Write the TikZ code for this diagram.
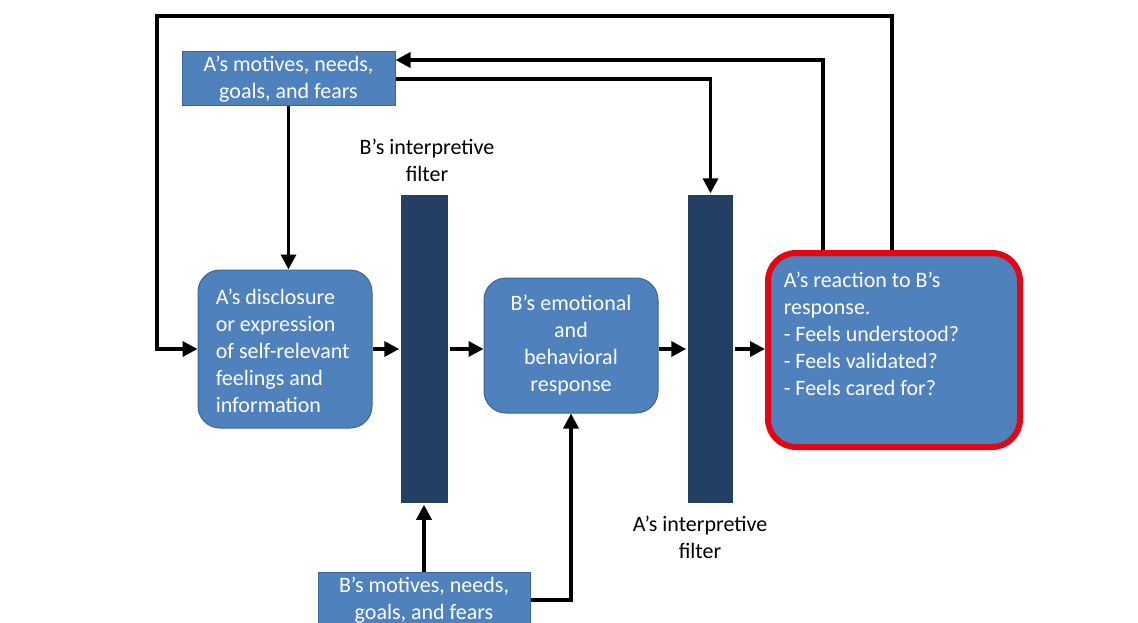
\documentclass[tikz,border=0pt]{standalone}
\usepackage{fontspec}
\setmainfont{Carlito}
\usetikzlibrary{arrows.meta}
\definecolor{boxblue}{HTML}{4F81BD}
\definecolor{boxedge}{HTML}{3B6596}
\definecolor{filtblue}{HTML}{233F64}
\definecolor{alertred}{HTML}{E30613}

\begin{document}
\begin{tikzpicture}[x=1pt, y=-1pt, line width=3.5pt,
    font=\fontsize{22}{27}\selectfont,
    arr/.style={-{Triangle[length=15pt,width=15pt]}, black},
    plain/.style={draw=boxedge, fill=boxblue, line width=1pt, text=white, align=center, inner sep=2pt},
    rbox/.style={plain, rounded corners=22pt},
    filt/.style={fill=filtblue, draw=none, inner sep=0pt},
    react/.style={draw=alertred, line width=6pt, fill=boxblue, rounded corners=28pt}]

    \useasboundingbox (0,0) rectangle (1138,623);
    \clip (0,0) rectangle (1138,623);

    \node[plain, minimum width=213pt, minimum height=54pt] (Amot) at (288.5,79)
    { A's motives, needs,\\goals, and fears };

    \node[rbox, minimum width=174pt, minimum height=158pt] (Adisc) at (285,349) {};
    \node[text=white, align=left, anchor=west, inner sep=0pt] (Adisctxt) at (214,351)
    { A's disclosure\\or expression\\of self-relevant\\feelings and\\information };

    \node[filt, minimum width=47pt, minimum height=308pt] (Bfilt) at (424.5,349) {};

    \node[rbox, minimum width=174pt, minimum height=135pt] (Bresp) at (571,345.5)
    { B's emotional\\and\\behavioral\\response };

    \node[filt, minimum width=45pt, minimum height=308pt] (Afilt) at (710.5,349) {};

    \node[react, minimum width=252pt, minimum height=194pt, anchor=north west,
        inner sep=0pt] (Areact) at (765,250) {};
    \node[text=white, align=left, anchor=north west, inner sep=0pt] (Areacttxt) at (782,270)
    { A's reaction to B's\\response.\\- Feels understood?\\- Feels validated?\\- Feels cared for? };

    \node[plain, minimum width=212pt, minimum height=56pt] (Bmot) at (424,600)
    { B's motives, needs,\\goals, and fears };

    \node[align=center] (Bfiltlbl) at (427,160)
    { B's interpretive\\filter };

    \node[align=center] (Afiltlbl) at (700,537)
    { A's interpretive\\filter };

    \coordinate (topR) at (892,16);
    \coordinate (topL) at (157,16);
    \coordinate (midR) at (823,60);

    % feedback loops
    \draw[arr] (Areact.north -| topR) -- (topR) -- (topL) |- (Adisc.west);
    \draw[arr] (Areact.north -| midR) -- (midR) -- (midR -| Amot.east);
    \draw[arr] (Amot.east) -| (Afilt.north);
    \draw[arr] (Amot.south) -- (Amot.south |- Adisc.north);

    % main flow
    \draw[arr] (Adisc.east) -- (Bfilt.west);
    \draw[arr] (Bfilt.east) -- (Bfilt.east -| Bresp.west);
    \draw[arr] (Bresp.east |- Afilt.west) -- (Afilt.west);
    \draw[arr] (Afilt.east) -- (Afilt.east -| Areact.west);

    % B's side
    \draw[arr] (Bmot.north) -- (Bmot.north |- Bfilt.south);
    \draw[arr] (Bmot.east) -| (Bresp.south);
\end{tikzpicture}
\end{document}
